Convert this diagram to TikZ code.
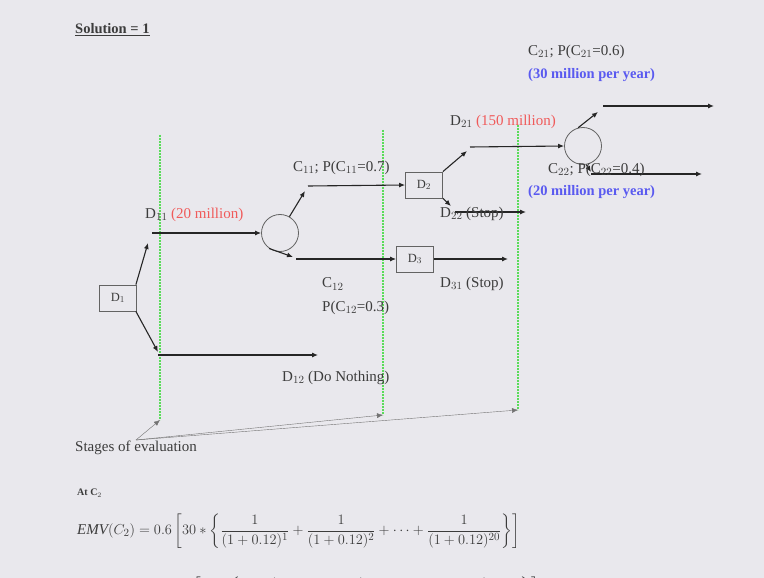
\documentclass[tikz,border=0pt]{standalone}
\usepackage{fontspec}
\setmainfont{Liberation Serif}
\usepackage{amsmath}
\usetikzlibrary{arrows.meta}

\definecolor{pagebg}{RGB}{233,232,237}
\definecolor{stagegreen}{RGB}{90,220,90}
\definecolor{costred}{RGB}{240,90,90}
\definecolor{flowblue}{RGB}{90,90,240}
\definecolor{inkgray}{RGB}{60,60,60}

\tikzset{
  lbl/.style={anchor=west, inner sep=0pt, text=inkgray, font=\fontsize{15}{17}\selectfont},
  decbox/.style={draw=inkgray!80, thick, minimum width=37pt, minimum height=26pt, inner sep=0pt,
    text=inkgray, font=\fontsize{12.5}{14}\selectfont},
  chance/.style={draw=inkgray!80, thick, circle, minimum size=37pt, inner sep=0pt},
  stage/.style={stagegreen, line width=2pt, densely dotted},
  arr/.style={draw=black!85, line width=1.1pt, -{Latex[length=6pt,width=5pt]}},
  pointer/.style={draw=black!55, thin, -{Latex[length=6pt,width=5pt]}}
}

\begin{document}
\begin{tikzpicture}[x=1pt, y=-1pt]
    % Page
    \fill[pagebg] (0,0) rectangle (764,578);
    \useasboundingbox (0,0) rectangle (764,578);
    \clip (0,0) rectangle (764,578);
    % Title
    \node[lbl, font=\fontsize{14.5}{16}\selectfont\bfseries] (title) at (75,30) {\underline{Solution = 1}};
    % Stage lines
    \draw[stage] (160,135) -- (160,420) coordinate (s1);
    \draw[stage] (383,130) -- (383,415) coordinate (s2);
    \draw[stage] (518,125) -- (518,410) coordinate (s3);
    % Decision and chance nodes
    \node[decbox] (D1) at (118,298) {D$_1$};
    \node[chance] (C1) at (280,233) {};
    \node[decbox] (D2) at (424,185) {D$_2$};
    \node[decbox] (D3) at (415,259) {D$_3$};
    \node[chance] (C2) at (583,146) {};
    % Branch points
    \coordinate (d11a) at (148,243);
    \coordinate (d11b) at (152,233);
    \coordinate (d12a) at (158,352);
    \coordinate (d12e) at (318,355);
    \coordinate (c11a) at (305,191);
    \coordinate (c12a) at (293,257);
    \coordinate (d31e) at (508,259);
    \coordinate (d21a) at (467,151);
    \coordinate (d22a) at (451,206);
    \coordinate (d22e) at (526,212);
    \coordinate (c21a) at (598,112);
    \coordinate (c21e) at (714,106);
    \coordinate (c22a) at (591,172);
    \coordinate (c22e) at (702,174);
    % Branches of D1
    \draw[arr] (D1.north east) ++(-1,0) -- (d11a);
    \draw[arr] (d11b) -- (C1.west);
    \draw[arr] (D1.south east) ++(-1,0) -- (d12a);
    \draw[arr] (d12a) ++(0,3) -- (d12e);
    % Branches of C1
    \draw[arr] (C1.60) -- (c11a);
    \draw[arr] (c11a) ++(3,-5) -- (D2.west);
    \draw[arr] (C1.235) -- (c12a);
    \draw[arr] (c12a) ++(3,2) -- (D3.west);
    \draw[arr] (D3.east) -- (d31e);
    % Branches of D2
    \draw[arr] (D2.north east) -- (d21a);
    \draw[arr] (d21a) ++(3,-4) -- (C2.west);
    \draw[arr] (D2.south east) -- (d22a);
    \draw[arr] (d22a) ++(4,6) -- (d22e);
    % Branches of C2
    \draw[arr] (C2.105) -- (c21a);
    \draw[arr] (c21a) ++(5,-6) -- (c21e);
    \draw[arr] (C2.-80) -- (c22a);
    \draw[arr] (c22a) ++(0,2) -- (c22e);
    % Labels
    \node[lbl] (lc21) at (528,52) {C$_{21}$; P(C$_{21}$=0.6)};
    \node[lbl, text=flowblue, font=\fontsize{14.5}{16}\selectfont\bfseries] (lc21v) at (528,75) {(30 million per year)};
    \node[lbl] (ld21) at (450,122) {D$_{21}$ \textcolor{costred}{(150 million)}};
    \node[lbl] (lc22) at (548,170) {C$_{22}$; P(C$_{22}$=0.4)};
    \node[lbl, text=flowblue, font=\fontsize{14.5}{16}\selectfont\bfseries] (lc22v) at (528,192) {(20 million per year)};
    \node[lbl] (lc11) at (293,168) {C$_{11}$; P(C$_{11}$=0.7)};
    \node[lbl] (ld11) at (145,215) {D$_{11}$ \textcolor{costred}{(20 million)}};
    \node[lbl] (ld22) at (440,214) {D$_{22}$ (Stop)};
    \node[lbl] (lc12) at (322,284) {C$_{12}$};
    \node[lbl] (lc12p) at (322,308) {P(C$_{12}$=0.3)};
    \node[lbl] (ld31) at (440,284) {D$_{31}$ (Stop)};
    \node[lbl] (ld12) at (282,378) {D$_{12}$ (Do Nothing)};
    % Stages of evaluation
    \node[lbl] (stages) at (75,448) {Stages of evaluation};
    \coordinate (sp) at (136,440);
    \draw[pointer] (sp) -- (s1);
    \draw[pointer] (sp) -- (s2);
    \draw[pointer] (sp) -- (s3);
    % Evaluation at C2
    \node[lbl, font=\fontsize{10}{12}\selectfont\bfseries] (atc2) at (77,493) {At C$_2$};
    \node[lbl] (emv) at (77,531) {$\mathit{EMV}(C_2)=0.6\left[30*\left\{\dfrac{1}{(1+0.12)^1}+\dfrac{1}{(1+0.12)^2}+\dots+\dfrac{1}{(1+0.12)^{20}}\right\}\right]$};
    \node[lbl] (emv2) at (160,594) {$+\,0.4\left[20*\left\{\dfrac{1}{(1+0.12)^1}+\dfrac{1}{(1+0.12)^2}+\dots+\dfrac{1}{(1+0.12)^{20}}\right\}\right]$};
\end{tikzpicture}
\end{document}
